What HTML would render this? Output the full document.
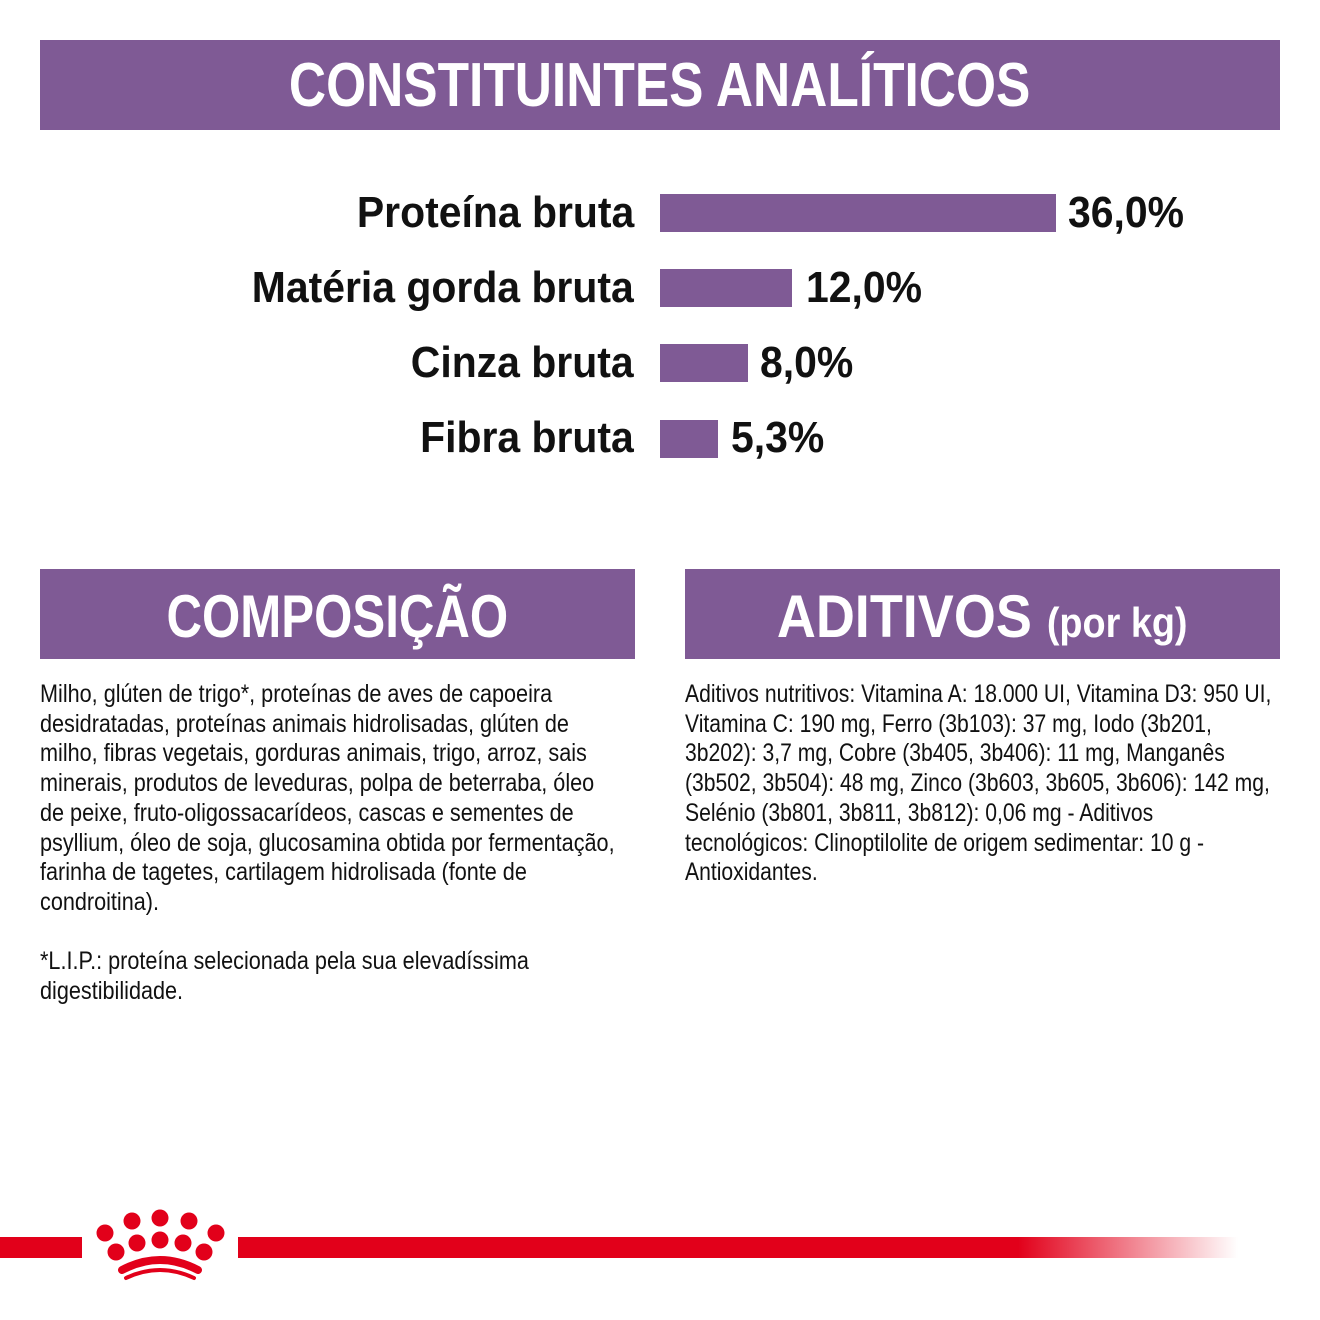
<!DOCTYPE html>
<html><head><meta charset="utf-8"><style>
body{margin:0;width:1320px;height:1320px;background:#fff;position:relative;overflow:hidden;font-family:"Liberation Sans",sans-serif;}
.hdr{position:absolute;background:#7f5a95;color:#fff;font-weight:bold;text-align:center;}
.hdr span.s{display:inline-block;transform:scaleX(0.82);transform-origin:center;white-space:nowrap;}
.lbl{position:absolute;right:686px;font-weight:bold;font-size:44px;color:#111;white-space:nowrap;line-height:50px;transform:scaleX(0.93);transform-origin:right center;}
.bar{position:absolute;left:660px;height:38px;background:#7f5a95;}
.val{position:absolute;font-weight:bold;font-size:44px;color:#111;line-height:50px;transform:scaleX(0.93);transform-origin:left center;}
.txt{position:absolute;font-size:25px;line-height:29.7px;color:#111;transform:scaleX(0.865);transform-origin:left top;white-space:nowrap;}
</style></head><body>
<div class="hdr" style="left:40px;top:40px;width:1240px;height:90px;font-size:62px;line-height:92px;"><span class="s" style="transform:scaleX(0.83)">CONSTITUINTES ANALÍTICOS</span></div>
<div class="lbl" style="top:188px">Proteína bruta</div><div class="bar" style="top:194px;width:396px"></div><div class="val" style="left:1068px;top:188px">36,0%</div>
<div class="lbl" style="top:263px">Matéria gorda bruta</div><div class="bar" style="top:269px;width:132px"></div><div class="val" style="left:806px;top:263px">12,0%</div>
<div class="lbl" style="top:338px">Cinza bruta</div><div class="bar" style="top:344px;width:88px"></div><div class="val" style="left:760px;top:338px">8,0%</div>
<div class="lbl" style="top:413px">Fibra bruta</div><div class="bar" style="top:420px;width:58px"></div><div class="val" style="left:731px;top:413px">5,3%</div>
<div class="hdr" style="left:40px;top:569px;width:595px;height:90px;font-size:60px;line-height:96px;"><span class="s">COMPOSIÇÃO</span></div>
<div class="hdr" style="left:685px;top:569px;width:595px;height:90px;font-size:60px;line-height:96px;"><span class="s" style="transform:scaleX(0.9)">ADITIVOS <span style="font-size:42px">(por kg)</span></span></div>
<div class="txt" style="left:40px;top:680px">Milho, glúten de trigo*, proteínas de aves de capoeira<br>desidratadas, proteínas animais hidrolisadas, glúten de<br>milho, fibras vegetais, gorduras animais, trigo, arroz, sais<br>minerais, produtos de leveduras, polpa de beterraba, óleo<br>de peixe, fruto-oligossacarídeos, cascas e sementes de<br>psyllium, óleo de soja, glucosamina obtida por fermentação,<br>farinha de tagetes, cartilagem hidrolisada (fonte de<br>condroitina).<br><br>*L.I.P.: proteína selecionada pela sua elevadíssima<br>digestibilidade.</div>
<div class="txt" style="left:685px;top:680px;transform:scaleX(0.845)">Aditivos nutritivos: Vitamina A: 18.000 UI, Vitamina D3: 950 UI,<br>Vitamina C: 190 mg, Ferro (3b103): 37 mg, Iodo (3b201,<br>3b202): 3,7 mg, Cobre (3b405, 3b406): 11 mg, Manganês<br>(3b502, 3b504): 48 mg, Zinco (3b603, 3b605, 3b606): 142 mg,<br>Selénio (3b801, 3b811, 3b812): 0,06 mg - Aditivos<br>tecnológicos: Clinoptilolite de origem sedimentar: 10 g -<br>Antioxidantes.</div>
<div style="position:absolute;left:0;top:1237px;width:82px;height:21px;background:#e2001a"></div>
<div style="position:absolute;left:238px;top:1237px;width:1000px;height:21px;background:linear-gradient(90deg,#e2001a 0%,#e2001a 78%,rgba(226,0,26,0) 100%)"></div>
<svg style="position:absolute;left:0;top:1200px" width="320" height="100">
<g fill="#e2001a">
<circle cx="132" cy="21" r="8.5"/><circle cx="160" cy="18" r="8.5"/><circle cx="189" cy="21" r="8.5"/>
<circle cx="105" cy="33" r="8.5"/><circle cx="216" cy="33" r="8.5"/>
<circle cx="116" cy="52" r="8.5"/><circle cx="137" cy="43" r="8.5"/><circle cx="160" cy="40" r="8.5"/><circle cx="183" cy="43" r="8.5"/><circle cx="204" cy="52" r="8.5"/>
</g>
<path d="M122 70 Q160 50 198 70" stroke="#e2001a" stroke-width="8" fill="none" stroke-linecap="round"/>
<path d="M126 78 Q160 62 194 78" stroke="#e2001a" stroke-width="4" fill="none" stroke-linecap="round"/>
</svg>
</body></html>
